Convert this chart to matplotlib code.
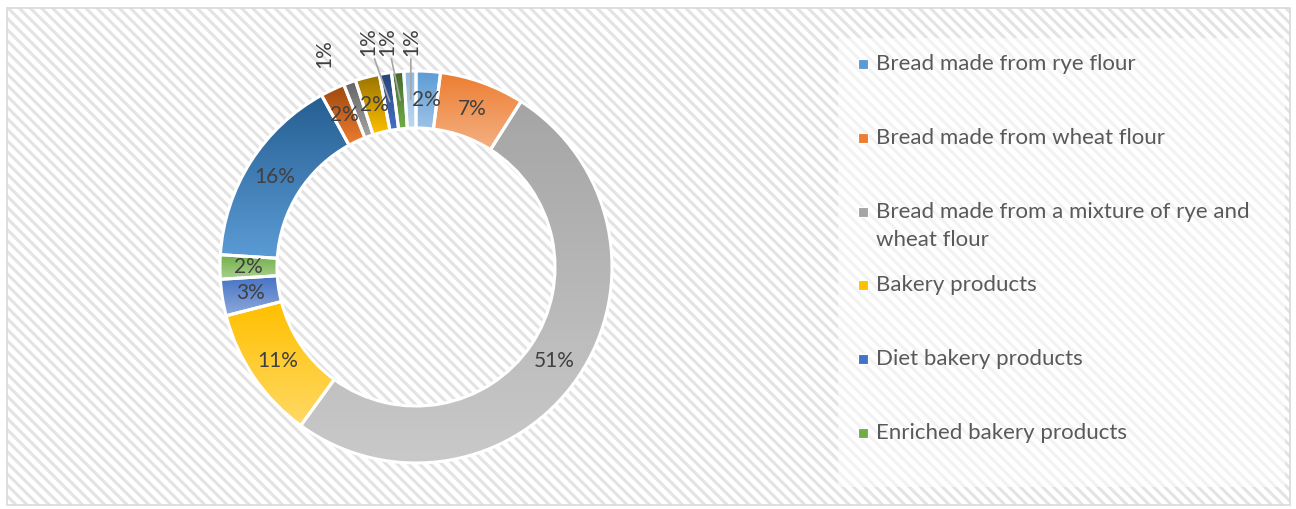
import numpy as np
import matplotlib.pyplot as plt
from matplotlib.patches import Rectangle
from matplotlib.colors import to_rgb

plt.rcParams['font.family'] = ['Lato', 'DejaVu Sans']
plt.rcParams['hatch.linewidth'] = 2.2

# categories in clockwise order from 12 o'clock; only the first six are in the legend
categories = [
    'Bread made from rye flour',
    'Bread made from wheat flour',
    'Bread made from a mixture of rye and\nwheat flour',
    'Bakery products',
    'Diet bakery products',
    'Enriched bakery products',
    'Category 7', 'Category 8', 'Category 9', 'Category 10',
    'Category 11', 'Category 12', 'Category 13',
]
shares = [2, 7, 51, 11, 3, 2, 16, 2, 1, 2, 1, 1, 1]
n_legend = 6

# Office-like gradient fills: colour at the top of each slice -> colour at the bottom
top_colors = ['#5B9BD5', '#ED7D31', '#A5A5A5', '#FFC000', '#4472C4', '#70AD47',
              '#255E91', '#9E480E', '#636363', '#997300', '#264478', '#43682B', '#8FB8E2']
bottom_colors = ['#9DC3E6', '#F4B183', '#C9C9C9', '#FFD966', '#8FAADC', '#A9D18E',
                 '#5B9BD5', '#ED7D31', '#A5A5A5', '#FFC000', '#4472C4', '#70AD47', '#BDD7EE']

# slices whose labels sit outside the ring (rotated): (height factor, sideways nudge, leader line)
outside = {8: (1.09, -15, False), 10: (1.15, -12, True), 11: (1.15, -7, True), 12: (1.15, 2, True)}

W, H = 1296, 509
fig = plt.figure(figsize=(W / 100, H / 100), dpi=100)
ax = fig.add_axes([0, 0, 1, 1])

# striped chart area with thin border
ax.add_patch(Rectangle((7, 4), 1283, 497, facecolor='white', edgecolor='#E3E3E3',
                       hatch='\\\\\\', linewidth=0, zorder=0))
ax.add_patch(Rectangle((7, 4), 1283, 497, facecolor='none', edgecolor='#D9D9D9',
                       linewidth=1.2, zorder=0.5))

cx, cy, R, ring = 416, 242, 196, 57
wedges, _ = ax.pie(shares, radius=R, center=(cx, cy), startangle=90, counterclock=False,
                   colors=top_colors,
                   wedgeprops=dict(width=ring, edgecolor='white', linewidth=2.2))

for w, c_top, c_bot in zip(wedges, top_colors, bottom_colors):
    x0, y0, x1, y1 = w.get_path().get_extents().extents
    t = np.linspace(0, 1, 64)[:, None, None]
    grad = (1 - t) * np.array(to_rgb(c_top)) + t * np.array(to_rgb(c_bot))
    im = ax.imshow(grad, extent=(x0, x1, y0, y1), origin='upper', aspect='auto',
                   interpolation='bilinear', zorder=2)
    im.set_clip_path(w)
    w.set_facecolor('none')
    w.set_zorder(3)

# percentage labels
cum = np.cumsum([0] + shares)
total = float(sum(shares))
rm = R - ring / 2
for i, s in enumerate(shares):
    frac = (cum[i] + s / 2) / total
    ang = np.deg2rad(90 - 360 * frac)
    txt = f'{s}%'
    if i in outside:
        rf, dx, lead = outside[i]
        ly = cy + R * rf
        lx = cx + (ly - cy) * np.cos(ang) / np.sin(ang) + dx
        if lead:
            ax.annotate(txt, xy=(cx + rm * np.cos(ang), cy + rm * np.sin(ang)),
                        xytext=(lx, ly), rotation=90, ha='center', va='center',
                        fontsize=15, color='#404040', zorder=5,
                        arrowprops=dict(arrowstyle='-', color='#A6A6A6', lw=1.2,
                                        shrinkA=0, shrinkB=0))
        else:
            ax.text(lx, ly, txt, rotation=90, ha='center', va='center',
                    fontsize=15, color='#404040', zorder=5)
    else:
        ax.text(cx + rm * np.cos(ang), cy + rm * np.sin(ang), txt, ha='center', va='center',
                fontsize=15, color='#404040', zorder=5)

# legend box
ax.add_patch(Rectangle((838, 22), 447, 449, facecolor='white', alpha=0.55,
                       edgecolor='none', zorder=1))
for i in range(n_legend):
    ly = H - (64 + i * 73.8)
    ax.add_patch(Rectangle((858, ly - 5), 10, 10, facecolor=top_colors[i],
                           edgecolor='white', linewidth=0.8, zorder=4))
    first, *rest = categories[i].split('\n')
    ax.text(876, ly, first, ha='left', va='center', fontsize=16, color='#595959', zorder=4)
    for k, line in enumerate(rest):
        ax.text(876, ly - 28 * (k + 1), line, ha='left', va='center', fontsize=16,
                color='#595959', zorder=4)

ax.set_xlim(0, W)
ax.set_ylim(0, H)
ax.set_aspect('auto')
ax.axis('off')

fig.savefig('out.png', dpi=100)
